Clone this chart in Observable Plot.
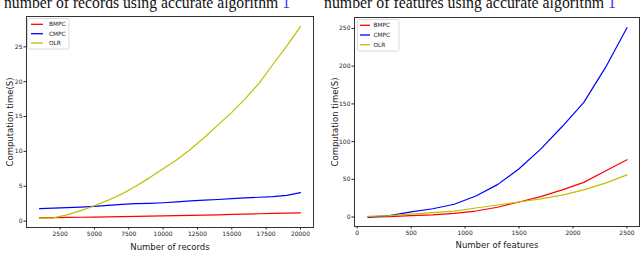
<!DOCTYPE html>
<html>
<head>
<meta charset="utf-8">
<script src="https://cdn.jsdelivr.net/npm/d3@7"></script>
<script src="https://cdn.jsdelivr.net/npm/@observablehq/plot@0.6"></script>
<style>
  html, body { margin: 0; padding: 0; background: #fff; }
  #wrap { position: relative; width: 640px; height: 263px; overflow: hidden; background: #fff; }
  .panel { position: absolute; top: 0; }
  #overlay { position: absolute; left: 0; top: 0; pointer-events: none; }
</style>
</head>
<body>
<div id="wrap">
  <div id="left" class="panel" style="left:0px"></div>
  <div id="right" class="panel" style="left:320px"></div>
  <svg id="overlay" width="640" height="263"></svg>
</div>
<script>
const seriesNames = ["BMPC", "CMPC", "OLR"];
const seriesColors = ["#ff0000", "#0000ff", "#bfbf00"];

// Left panel: number of records
const records = [1000,2000,3000,4000,5000,6000,7000,8000,9000,10000,11000,12000,13000,14000,15000,16000,17000,18000,19000,20000];
const recBMPC = [0.48,0.5,0.52,0.55,0.58,0.6,0.64,0.67,0.7,0.74,0.78,0.82,0.86,0.9,0.95,1.0,1.05,1.1,1.15,1.19];
const recCMPC = [1.78,1.85,1.92,2.0,2.12,2.25,2.4,2.5,2.55,2.63,2.75,2.9,3.0,3.1,3.22,3.32,3.42,3.5,3.7,4.08];
const recOLR  = [0.4,0.45,0.9,1.5,2.2,3.0,3.9,5.0,6.2,7.5,8.8,10.3,12.0,13.8,15.6,17.6,19.8,22.5,25.1,27.9];
const recXTicks = [2500,5000,7500,10000,12500,15000,17500,20000];
const recYTicks = [0,5,10,15,20,25];

// Right panel: number of features
const features = [100,300,500,700,900,1100,1300,1500,1700,1900,2100,2300,2500];
const featBMPC = [0,0.5,2,3,5,8,13,20,27,36,46,61,76];
const featCMPC = [0,2,7,11,17,28,43,64,90,120,152,198,251];
const featOLR  = [1,2,4,6,8,12,16,20,24,29,36,45,56];
const featXTicks = [0,500,1000,1500,2000,2500];
const featYTicks = [0,50,100,150,200,250];

const titles = ["number of records using accurate algorithm ", "number of features using accurate algorithm "];
const titleRef = "1";
const xLabels = ["Number of records", "Number of features"];
const yLabel = "Computation time(S)";

function toRows(xs, ys) {
  const rows = [];
  ys.forEach((vals, k) => xs.forEach((x, i) => rows.push({x, y: vals[i], s: seriesNames[k]})));
  return rows;
}

function panel(opts) {
  return Plot.plot({
    width: 320,
    height: 263,
    marginLeft: opts.ml, marginRight: opts.mr, marginTop: opts.mt, marginBottom: opts.mb,
    style: {fontFamily: "'DejaVu Sans', sans-serif", fontSize: "6px", color: "#222", background: "transparent"},
    x: {domain: opts.xd},
    y: {domain: opts.yd},
    color: {domain: seriesNames, range: seriesColors},
    marks: [
      Plot.line(opts.rows, {x: "x", y: "y", stroke: "s", strokeWidth: 1.2}),
      Plot.frame({stroke: "#333", strokeWidth: 1}),
      Plot.axisX({ticks: opts.xt, tickSize: 2.5, tickPadding: 1.5, tickFormat: d3.format("d"), fontSize: 6,
                  label: opts.xl, labelAnchor: "center", labelArrow: "none", labelOffset: opts.xlo}),
      Plot.axisY({ticks: opts.yt, tickSize: 2.5, tickPadding: 1.5, tickFormat: d3.format("d"), fontSize: 6,
                  label: yLabel, labelAnchor: "center", labelArrow: "none", labelOffset: opts.ylo})
    ]
  });
}

const left = panel({
  ml: 26, mr: 7, mt: 16, mb: 36,
  xd: [50, 20950], yd: [-0.92, 29.35],
  xt: recXTicks, yt: recYTicks,
  rows: toRows(records, [recBMPC, recCMPC, recOLR]),
  xl: xLabels[0], xlo: 22, ylo: 20
});
const right = panel({
  ml: 34, mr: 1, mt: 17, mb: 37,
  xd: [-25, 2616], yd: [-12.5, 264.5],
  xt: featXTicks, yt: featYTicks,
  rows: toRows(features, [featBMPC, featCMPC, featOLR]),
  xl: xLabels[1], xlo: 21, ylo: 23
});
document.getElementById("left").appendChild(left);
document.getElementById("right").appendChild(right);

[left, right].forEach(svg => {
  svg.querySelectorAll("g[aria-label='x-axis label'] text, g[aria-label='y-axis label'] text")
     .forEach(t => t.setAttribute("font-size", "8.5"));
});

// Overlay: titles (clipped at top, as in the reference) and legends
const ov = d3.select("#overlay");
const titlePos = [{x: 4, len: 286}, {x: 324, len: 292}];
titles.forEach((t, i) => {
  const tx = ov.append("text")
    .attr("x", titlePos[i].x).attr("y", 7.5)
    .attr("font-family", "'Liberation Serif', 'DejaVu Serif', serif")
    .attr("font-size", 16.5)
    .attr("fill", "#111")
    .attr("textLength", titlePos[i].len)
    .attr("lengthAdjust", "spacingAndGlyphs");
  tx.append("tspan").text(t);
  tx.append("tspan").attr("fill", "#3333ff").text(titleRef);
});

const legends = [
  {x: 27.5, y: 18.5, w: 41.5, h: 30.5, sx: 31, sw: 12, tx: 49, rows: [24.3, 33.7, 43]},
  {x: 357.5, y: 19.5, w: 41.5, h: 31.5, sx: 360, sw: 10, tx: 373.5, rows: [25.3, 35, 44.7]}
];
legends.forEach(L => {
  const g = ov.append("g");
  g.append("rect").attr("x", L.x).attr("y", L.y).attr("width", L.w).attr("height", L.h)
    .attr("rx", 1.5).attr("fill", "#fff").attr("fill-opacity", 0.85).attr("stroke", "#d0d0d0").attr("stroke-width", 0.8);
  seriesNames.forEach((s, k) => {
    g.append("line").attr("x1", L.sx).attr("x2", L.sx + L.sw).attr("y1", L.rows[k]).attr("y2", L.rows[k])
      .attr("stroke", seriesColors[k]).attr("stroke-width", 1.3);
    g.append("text").attr("x", L.tx).attr("y", L.rows[k]).attr("dy", "0.35em")
      .attr("font-family", "'DejaVu Sans', sans-serif").attr("font-size", 5.8).attr("fill", "#222").text(s);
  });
});
</script>
</body>
</html>
